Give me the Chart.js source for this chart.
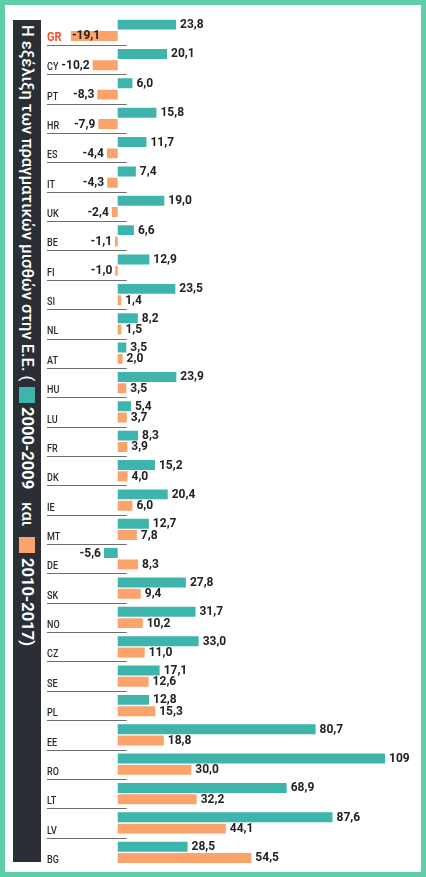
<!DOCTYPE html>
<html>
<head>
<meta charset="utf-8">
<script src="https://cdn.jsdelivr.net/npm/chart.js@4/dist/chart.umd.min.js"></script>
<style>
  html, body { margin: 0; padding: 0; background: #fff; }
  #frame { position: absolute; left: 0; top: 0; width: 426px; height: 877px; box-sizing: border-box; border: 5px solid #5ecfa8; background: #fff; }
  #wrap { position: absolute; left: 0; top: 0; width: 426px; height: 877px; }
  #title { position: absolute; left: 13px; top: 20px; width: 28px; height: 842px; background: #2b2e34; z-index: 2; }
  #title .t { position: absolute; left: 0; width: 28px; writing-mode: vertical-rl; color: #fff;
    font-family: Roboto, "Noto Sans", sans-serif; font-weight: 500; font-size: 16.5px; line-height: 28px; white-space: nowrap; }
  #title .num { font-weight: bold; font-size: 16.5px; }
  #title .sq { position: absolute; left: 6px; width: 16px; height: 16px; }
</style>
</head>
<body>
<div id="frame"></div>
<div id="wrap"><canvas id="c"></canvas></div>
<div id="title">
  <div class="t" style="top:5px">Η εξέλιξη των πραγματικών μισθών στην Ε.Ε. (</div>
  <div class="sq" style="top:367px;background:#3eb5ac"></div>
  <div class="t num" style="top:387px">2000-2009</div>
  <div class="t" style="top:482px">και</div>
  <div class="sq" style="top:517px;background:#fba36b"></div>
  <div class="t num" style="top:538px">2010-2017)</div>
</div>
<script>
const countries = ['GR','CY','PT','HR','ES','IT','UK','BE','FI','SI','NL','AT','HU','LU','FR','DK','IE','MT','DE','SK','NO','CZ','SE','PL','EE','RO','LT','LV','BG'];
const wages2000_2009 = [23.8,20.1,6.0,15.8,11.7,7.4,19.0,6.6,12.9,23.5,8.2,3.5,23.9,5.4,8.3,15.2,20.4,12.7,-5.6,27.8,31.7,33.0,17.1,12.8,80.7,109,68.9,87.6,28.5];
const wages2010_2017 = [-19.1,-10.2,-8.3,-7.9,-4.4,-4.3,-2.4,-1.1,-1.0,1.4,1.5,2.0,3.5,3.7,3.9,4.0,6.0,7.8,8.3,9.4,10.2,11.0,12.6,15.3,18.8,30.0,32.2,44.1,54.5];
const seriesLabels = ['2000-2009','2010-2017'];

const TEAL = '#3eb5ac', ORANGE = '#fba36b';

function fmt(v) {
  if (Math.abs(v) >= 100) return v.toFixed(0);
  return v.toFixed(1).replace('.', ',');
}

const labelPlugin = {
  id: 'labels',
  afterDatasetsDraw(chart) {
    const ctx = chart.ctx;
    const yScale = chart.scales.y;
    const xScale = chart.scales.x;
    const zeroX = xScale.getPixelForValue(0);
    const pitch = yScale.getPixelForValue(1) - yScale.getPixelForValue(0);
    ctx.save();
    // separators
    ctx.strokeStyle = '#6d6d6d';
    ctx.lineWidth = 1;
    for (let i = 0; i < countries.length - 1; i++) {
      const y = Math.round(yScale.getPixelForValue(i) + pitch / 2) + 0.5;
      ctx.beginPath();
      ctx.moveTo(47, y);
      ctx.lineTo(zeroX + 9, y);
      ctx.stroke();
    }
    // value labels
    ctx.font = 'bold 12px Roboto, sans-serif';
    ctx.textBaseline = 'middle';
    ctx.fillStyle = '#222';
    chart.data.datasets.forEach((ds, di) => {
      const meta = chart.getDatasetMeta(di);
      meta.data.forEach((bar, i) => {
        const v = ds.data[i];
        const t = fmt(v);
        const w = ctx.measureText(t).width;
        if (v >= 0) {
          ctx.textAlign = 'left';
          ctx.fillText(t, bar.x + 4, bar.y + 0.5);
        } else if (bar.x - 3 - w < 56) {
          ctx.textAlign = 'left';
          ctx.fillText(t, bar.x + 1, bar.y + 0.5);
        } else {
          ctx.textAlign = 'right';
          ctx.fillText(t, bar.x - 3, bar.y + 0.5);
        }
      });
    });
    // country labels
    const metaB = chart.getDatasetMeta(1);
    ctx.textAlign = 'left';
    ctx.textBaseline = 'alphabetic';
    countries.forEach((c, i) => {
      const bar = metaB.data[i];
      const yb = bar.y + bar.height / 2;
      ctx.save();
      if (c === 'GR') {
        ctx.font = 'bold 12px Roboto, sans-serif';
        ctx.fillStyle = '#f0502a';
        ctx.translate(47, yb);
        ctx.scale(0.92, 1);
      } else {
        ctx.font = '500 11px Roboto, sans-serif';
        ctx.fillStyle = '#2a2a2a';
        ctx.translate(47, yb);
        ctx.scale(0.82, 1);
      }
      ctx.fillText(c, 0, 0);
      ctx.restore();
    });
    ctx.restore();
  }
};

new Chart(document.getElementById('c'), {
  type: 'bar',
  data: {
    labels: countries,
    datasets: [
      { label: seriesLabels[0], data: wages2000_2009, backgroundColor: TEAL, categoryPercentage: 0.77, barPercentage: 0.88 },
      { label: seriesLabels[1], data: wages2010_2017, backgroundColor: ORANGE, categoryPercentage: 0.77, barPercentage: 0.88 }
    ]
  },
  options: {
    indexAxis: 'y',
    responsive: true,
    maintainAspectRatio: false,
    animation: false,
    layout: { padding: { left: 46.6, right: 12.8, top: 15.6, bottom: 10 } },
    plugins: { legend: { display: false }, tooltip: { enabled: false } },
    scales: {
      x: { display: false, min: -29, max: 120.5 },
      y: { display: false }
    }
  },
  plugins: [labelPlugin]
});
</script>
</body>
</html>
